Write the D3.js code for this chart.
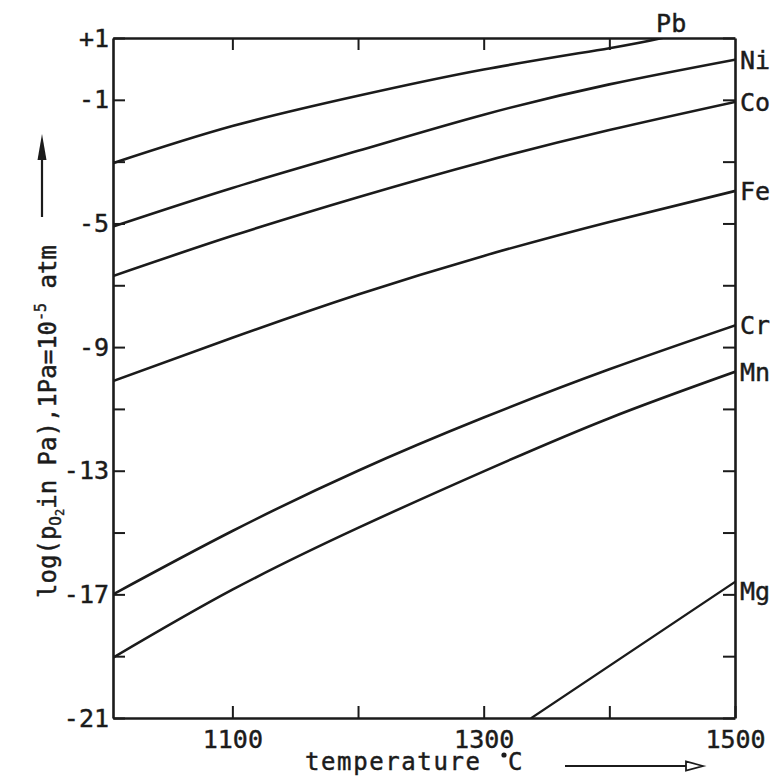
<!DOCTYPE html>
<html>
<head>
<meta charset="utf-8">
<script src="https://cdn.jsdelivr.net/npm/d3@7"></script>
<style>
  html, body { margin: 0; padding: 0; background: #fff; }
  svg { display: block; }
  text { font-family: "DejaVu Sans Mono", monospace; fill: #1b1b1b; stroke: #1b1b1b; stroke-width: 0.45px; }
</style>
</head>
<body>
<svg id="chart" width="777" height="778"></svg>
<script>
// Oxygen partial pressure of metal/oxide equilibria vs temperature
const tGrid = [1005, 1100, 1200, 1300, 1400, 1500];
const ni = [-5.1, -3.85, -2.65, -1.48, -0.5, 0.3];
const co = [-6.7, -5.4, -4.15, -3.0, -1.98, -1.07];
const fe = [-10.1, -8.7, -7.3, -6.05, -4.95, -3.95];
const cr = [-17.0, -14.95, -13.0, -11.28, -9.72, -8.3];
const mn = [-19.05, -16.85, -14.85, -13.02, -11.3, -9.8];
const pbT = [1005, 1100, 1200, 1300, 1400, 1442];
const pb = [-3.05, -1.85, -0.87, -0.02, 0.67, 1.0];
const mgT = [1338, 1500];
const mg = [-21, -16.6];

const xTicks = [1100, 1200, 1300, 1400];
const xLabels = [1100, 1300, 1500];
const yTicks = [1, -1, -3, -5, -7, -9, -11, -13, -15, -17, -19, -21];
const yLabels = [1, -1, -5, -9, -13, -17, -21];

const svg = d3.select("#chart");
const plotL = 113, plotR = 735, plotT = 38, plotB = 718;
const ink = "#1b1b1b";

const x = d3.scaleLinear().domain([1005, 1500]).range([plotL, plotR]);
const y = d3.scaleLinear().domain([-21, 1]).range([plotB, plotT]);

const fmtY = v => (v > 0 ? "+" + v : "-" + Math.abs(v));

function styleAxis(g, showText) {
  g.select(".domain").attr("stroke", ink).attr("stroke-width", 2.6);
  g.selectAll(".tick line").attr("stroke", ink).attr("stroke-width", 2);
  g.selectAll(".tick text")
    .attr("font-family", '"DejaVu Sans Mono", monospace')
    .attr("font-size", 25)
    .attr("fill", ink);
  if (!showText) g.selectAll(".tick text").remove();
}

// clip so curves stay inside the frame
svg.append("clipPath").attr("id", "plot-clip")
  .append("rect")
  .attr("x", plotL).attr("y", plotT)
  .attr("width", plotR - plotL).attr("height", plotB - plotT);

// curves
const line = d3.line()
  .x(d => x(d[0]))
  .y(d => y(d[1]))
  .curve(d3.curveNatural);

const series = [
  { name: "Pb", t: pbT, v: pb, w: 2.6 },
  { name: "Ni", t: tGrid, v: ni, w: 2.6 },
  { name: "Co", t: tGrid, v: co, w: 2.6 },
  { name: "Fe", t: tGrid, v: fe, w: 2.6 },
  { name: "Cr", t: tGrid, v: cr, w: 2.6 },
  { name: "Mn", t: tGrid, v: mn, w: 2.6 },
  { name: "Mg", t: mgT, v: mg, w: 2.2 }
];

const curves = svg.append("g").attr("clip-path", "url(#plot-clip)");

series.forEach(s => {
  const pts = s.t.map((t, i) => [t, s.v[i]]);
  curves.append("path")
    .datum(pts)
    .attr("d", line)
    .attr("fill", "none")
    .attr("stroke", ink)
    .attr("stroke-width", s.w)
    .attr("stroke-linecap", "round");

  const lastT = s.t[s.t.length - 1];
  const lastV = s.v[s.v.length - 1];
  const lbl = svg.append("text")
    .attr("font-size", 25)
    .text(s.name);
  if (s.name === "Pb") {
    lbl.attr("x", x(lastT) - 6).attr("y", y(lastV) - 6);
  } else {
    lbl.attr("x", plotR + 5).attr("y", y(lastV))
      .attr("dy", s.name === "Mg" ? "0.7em" : "0.36em");
  }
});

// left axis with labels
svg.append("g")
  .attr("transform", `translate(${plotL},0)`)
  .call(d3.axisLeft(y).tickValues(yTicks).tickSize(-12).tickSizeOuter(0).tickPadding(4)
    .tickFormat(v => yLabels.includes(v) ? fmtY(v) : ""))
  .call(g => styleAxis(g, true));

// right axis, ticks only
svg.append("g")
  .attr("transform", `translate(${plotR},0)`)
  .call(d3.axisRight(y).tickValues(yTicks).tickSize(-12).tickSizeOuter(0))
  .call(g => styleAxis(g, false));

// bottom axis
svg.append("g")
  .attr("transform", `translate(0,${plotB})`)
  .call(d3.axisBottom(x).tickValues(xTicks.concat([1500])).tickSize(-12).tickSizeOuter(0).tickPadding(12)
    .tickFormat(v => xLabels.includes(v) ? String(v) : ""))
  .call(g => styleAxis(g, true));

// top axis, ticks only
svg.append("g")
  .attr("transform", `translate(0,${plotT})`)
  .call(d3.axisTop(x).tickValues(xTicks).tickSize(-12).tickSizeOuter(0))
  .call(g => styleAxis(g, false));

// y-axis title, rotated
const yt = svg.append("text")
  .attr("transform", `translate(56,${(243 + 600) / 2}) rotate(-90)`)
  .attr("text-anchor", "middle")
  .attr("font-size", 24);
yt.append("tspan").text("log(p");
yt.append("tspan").attr("font-size", 16).attr("dy", 5).text("O");
yt.append("tspan").attr("font-size", 12).attr("dy", 3).text("2");
yt.append("tspan").attr("dy", -8).text("in Pa),1Pa=10");
yt.append("tspan").attr("font-size", 15).attr("dy", -10).text("-5");
yt.append("tspan").attr("dy", 10).text(" atm");

// upward arrow above the y title
svg.append("line")
  .attr("x1", 42).attr("x2", 42).attr("y1", 217).attr("y2", 150)
  .attr("stroke", ink).attr("stroke-width", 2.2);
svg.append("path")
  .attr("d", "M42,134 L37.5,160 L46.5,160 Z")
  .attr("fill", ink);

// x-axis title
svg.append("text")
  .attr("x", 305).attr("y", 770)
  .attr("font-size", 24)
  .attr("letter-spacing", 1.6)
  .text("temperature");
svg.append("text")
  .attr("x", 508).attr("y", 770)
  .attr("font-size", 24)
  .text("C");
svg.append("circle")
  .attr("cx", 504).attr("cy", 755).attr("r", 2.6)
  .attr("fill", ink);

// rightward arrow next to the x title
svg.append("line")
  .attr("x1", 565).attr("x2", 688).attr("y1", 766).attr("y2", 766)
  .attr("stroke", ink).attr("stroke-width", 2.2);
svg.append("path")
  .attr("d", "M703,766 L686,761.5 L686,770.5 Z")
  .attr("fill", "#fff").attr("stroke", ink).attr("stroke-width", 1.8);
</script>
</body>
</html>
